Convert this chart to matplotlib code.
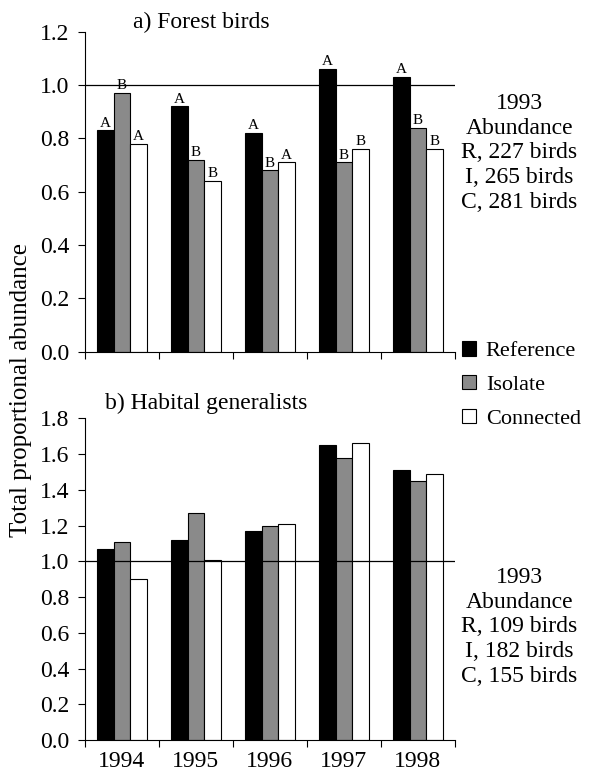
import numpy as np
import matplotlib
matplotlib.use("Agg")
import matplotlib.pyplot as plt
from matplotlib.patches import Patch

plt.rcParams['font.family'] = ['Liberation Serif', 'DejaVu Serif']

years = ["1994", "1995", "1996", "1997", "1998"]
series = ["Reference", "Isolate", "Connected"]
colors = ["black", "#8a8a8a", "white"]

forest_ref = [0.83, 0.92, 0.82, 1.06, 1.03]
forest_iso = [0.97, 0.72, 0.68, 0.71, 0.84]
forest_con = [0.78, 0.64, 0.71, 0.76, 0.76]
forest_letters = [["A", "A", "A", "A", "A"],
                  ["B", "B", "B", "B", "B"],
                  ["A", "B", "A", "B", "B"]]

gen_ref = [1.07, 1.12, 1.17, 1.65, 1.51]
gen_iso = [1.11, 1.27, 1.20, 1.58, 1.45]
gen_con = [0.90, 1.01, 1.21, 1.66, 1.49]

forest_note = "1993\nAbundance\nR, 227 birds\nI, 265 birds\nC, 281 birds"
gen_note = "1993\nAbundance\nR, 109 birds\nI, 182 birds\nC, 155 birds"

FS = 17


def draw_panel(ax, values, ymax, letters=None):
    x = np.arange(len(years))
    width = 0.225
    for i, vals in enumerate(values):
        pos = x + (i - 1) * width
        ax.bar(pos, vals, width, color=colors[i], edgecolor="black",
               linewidth=0.8, zorder=2)
        if letters is not None:
            for p, v, l in zip(pos, vals, letters[i]):
                ax.text(p, v + 0.003, l, ha="center", va="bottom", fontsize=11)
    ax.axhline(1.0, color="black", linewidth=0.9, zorder=3)
    ax.set_xlim(-0.5, len(years) - 0.5)
    ax.set_ylim(0, ymax)
    ticks = np.arange(0, ymax + 0.001, 0.2)
    ax.set_yticks(ticks)
    ax.set_yticklabels(["%.1f" % t for t in ticks])
    ax.set_xticks(np.arange(-0.5, len(years)))
    ax.set_xticklabels([])
    ax.set_xticks(x, minor=True)
    ax.tick_params(axis="x", which="minor", length=0, labelsize=FS, pad=8)
    ax.tick_params(axis="x", which="major", length=5, direction="out")
    ax.tick_params(axis="y", length=5, labelsize=FS, direction="out", pad=6)
    for s in ["top", "right"]:
        ax.spines[s].set_visible(False)


fig = plt.figure(figsize=(5.9, 7.73), dpi=100)
ax1 = fig.add_axes([0.144, 0.545, 0.627, 0.414])
ax2 = fig.add_axes([0.144, 0.0427, 0.627, 0.416])

draw_panel(ax1, [forest_ref, forest_iso, forest_con], 1.2, forest_letters)
draw_panel(ax2, [gen_ref, gen_iso, gen_con], 1.8)
ax2.set_xticklabels(years, minor=True)

fig.text(133 / 590, 1 - 22 / 773, "a) Forest birds", ha="left", va="center",
         fontsize=FS)
fig.text(105 / 590, 1 - 403 / 773, "b) Habital generalists", ha="left",
         va="center", fontsize=FS)

fig.text(0.88, 1 - 153 / 773, forest_note, ha="center", va="center",
         fontsize=FS, linespacing=1.22)
fig.text(0.88, 1 - 627 / 773, gen_note, ha="center", va="center",
         fontsize=FS, linespacing=1.22)

handles = [Patch(facecolor=c, edgecolor="black", linewidth=0.8) for c in colors]
fig.legend(handles, series, loc="center left",
           bbox_to_anchor=(458 / 590, 1 - 385 / 773),
           frameon=False, fontsize=16, handlelength=0.6, handleheight=0.6,
           handletextpad=0.45, labelspacing=0.62, borderpad=0.2,
           borderaxespad=0)

fig.text(21 / 590, 1 - 390 / 773, "Total proportional abundance", rotation=90,
         ha="center", va="center", fontsize=18)

fig.savefig("out.png", dpi=100)
